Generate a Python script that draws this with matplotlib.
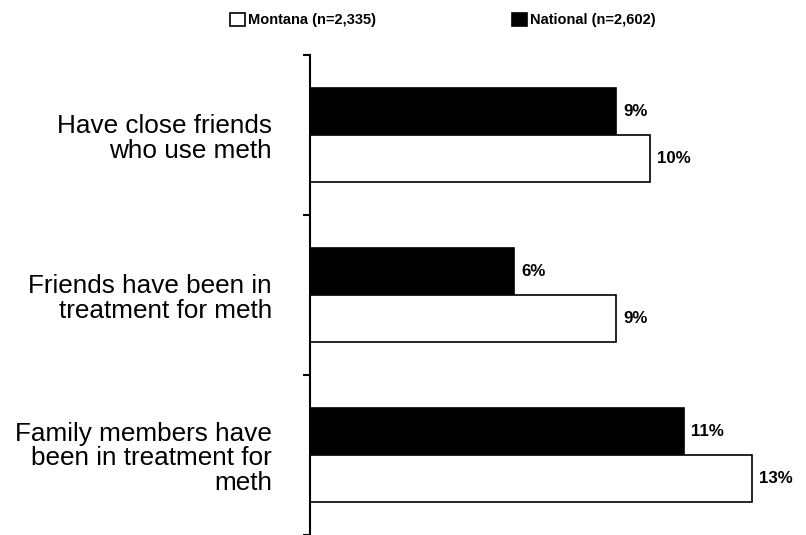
import matplotlib.pyplot as plt
from matplotlib.patches import Patch
from matplotlib.transforms import blended_transform_factory

plt.rcParams['font.family'] = ['Liberation Sans', 'DejaVu Sans']

categories = [
    "Have close friends\nwho use meth",
    "Friends have been in\ntreatment for meth",
    "Family members have\nbeen in treatment for\nmeth",
]
montana = [10, 9, 13]
national = [9, 6, 11]
series_labels = ["Montana (n=2,335)", "National (n=2,602)"]

fig = plt.figure(figsize=(8.06, 5.35), dpi=100)
ax = fig.add_axes([310 / 806, 0.0, 485 / 806, 480 / 535])

h = 0.294
pos = list(range(len(categories)))
ax.barh([p - h / 2 for p in pos], national, height=h, color='black',
        edgecolor='black', linewidth=1.2)
ax.barh([p + h / 2 for p in pos], montana, height=h, color='white',
        edgecolor='black', linewidth=1.2)

for p, v in zip(pos, national):
    ax.annotate(f"{v}%", (v, p - h / 2), xytext=(5, 0), textcoords='offset points',
                va='center', ha='left', fontsize=12.2, fontweight='bold')
for p, v in zip(pos, montana):
    ax.annotate(f"{v}%", (v, p + h / 2), xytext=(5, 0), textcoords='offset points',
                va='center', ha='left', fontsize=12.2, fontweight='bold')

ax.set_xlim(0, 485 / 34)
ax.set_ylim(2.5, -0.5)

for s in ['top', 'right', 'bottom']:
    ax.spines[s].set_visible(False)
ax.spines['left'].set_linewidth(1.5)
ax.set_xticks([])
ax.set_yticks([-0.5, 0.5, 1.5, 2.5])
ax.set_yticklabels([])
ax.tick_params(axis='y', direction='out', length=5, width=1.5)

trans = blended_transform_factory(fig.transFigure, ax.transData)
for p, c in zip(pos, categories):
    ax.annotate(c, (272 / 806, p), xycoords=trans, xytext=(0, -2.5),
                textcoords='offset points', ha='right', va='center',
                fontsize=18.8, linespacing=1.05)

handles = [Patch(facecolor='white', edgecolor='black', linewidth=1.2),
           Patch(facecolor='black', edgecolor='black', linewidth=1.2)]
fig.legend(handles, series_labels, loc='center', ncol=2, frameon=False,
           bbox_to_anchor=(443 / 806, 1 - 20 / 535),
           prop={'weight': 'bold', 'size': 10.5},
           handlelength=1.0, handleheight=1.0, handletextpad=0.25,
           columnspacing=9.3)

fig.savefig('out.png', dpi=100)
